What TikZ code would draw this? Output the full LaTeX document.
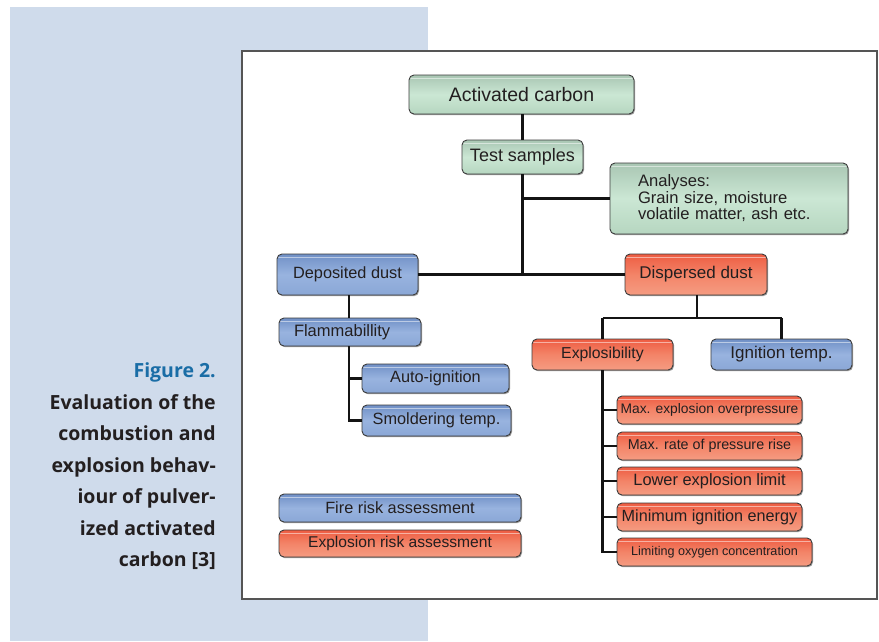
\documentclass[tikz,border=0pt]{standalone}
\usepackage{fontspec}
\setmainfont{Liberation Sans}
\newfontfamily\capfont{Open Sans}
\usetikzlibrary{shadows}
\definecolor{panel}{HTML}{CFDBEB}
\definecolor{figblue}{HTML}{1A6DA6}
\definecolor{captxt}{HTML}{231F20}
\definecolor{txt}{HTML}{231F20}
\definecolor{boxline}{HTML}{3C3C3C}
\definecolor{frameline}{HTML}{555555}
\definecolor{gA}{HTML}{A9C6B3}
\definecolor{gB}{HTML}{CBE7D4}
\definecolor{gC}{HTML}{B6D6C0}
\definecolor{bA}{HTML}{7090C6}
\definecolor{bB}{HTML}{98B3DF}
\definecolor{bC}{HTML}{8AA7D6}
\definecolor{rA}{HTML}{EE5C42}
\definecolor{rB}{HTML}{F38468}
\definecolor{rC}{HTML}{F59C82}
\begin{document}
\begin{tikzpicture}[x=1pt,y=-1pt,
  box/.style={draw=boxline, line width=0.9pt, rounded corners=5pt, inner sep=0pt,
    text=txt, drop shadow={shadow xshift=1pt, shadow yshift=-1.2pt, opacity=0.55, fill=black!70},
    path picture={\draw[white, opacity=0.5, line width=0.9pt]
      ([yshift=-3.5pt]path picture bounding box.north west) -- ([yshift=-3.5pt]path picture bounding box.north east);}},
  gbox/.style={box, top color=gA, bottom color=gC, middle color=gB},
  bbox/.style={box, top color=bA, bottom color=bC, middle color=bB},
  rbox/.style={box, top color=rA, bottom color=rC, middle color=rB},
  fs/.style={font=\fontsize{#1}{#1}\selectfont},
  sz/.style n args={2}{minimum width=#1pt, minimum height=#2pt},
  conn/.style={draw=black!92, line width=2.3pt},
  captext/.style={anchor=base east, inner sep=0pt, text=captxt, font=\capfont\bfseries\fontsize{19.5}{19.5}\selectfont}
]
\useasboundingbox (0,0) rectangle (879,641);
\fill[panel] (10,7) rectangle (428,641);
\draw[frameline, fill=white, line width=1.4pt] (242,51) rectangle (877,599);

% caption
\node[captext, text=figblue] (c0) at (216,377.5) {Figure 2.};
\node[captext] (c1) at (216,409) {Evaluation of the};
\node[captext] (c2) at (216,440.5) {combustion and};
\node[captext] (c3) at (216,472) {explosion behav-};
\node[captext] (c4) at (216,503.5) {iour of pulver-};
\node[captext] (c5) at (216,535) {ized activated};
\node[captext] (c6) at (216,566.5) {carbon [3]};

\coordinate (jt) at (522,274.5);
\coordinate (dj) at (697,318);

% nodes
\node[gbox, sz={225}{39}, fs=19.5] (ac) at (521.5,94.5) {Activated carbon};
\node[gbox, sz={121}{34}, fs=18] (ts) at (522.5,157) {Test samples};
\node[gbox, sz={238}{71}, text width=182pt, align=left, font=\fontsize{16.6}{16.5}\selectfont] (an) at (729,198.5) {Analyses:\\Grain size, moisture\\volatile matter, ash etc.};
\node[bbox, sz={141}{41}, fs=16.3] (dep) at (347.5,274.5) {Deposited dust};
\node[rbox, sz={142}{41}, fs=17] (dis) at (696,274.5) {Dispersed dust};
\node[bbox, sz={142}{28}, fs=16.5, text width=112pt, align=left] (fl) at (350,332) {Flammabillity};
\node[bbox, sz={147}{29}, fs=16.3] (ai) at (435.5,378.5) {Auto-ignition};
\node[bbox, sz={149}{31}, fs=16.3] (sm) at (436.5,420.5) {Smoldering temp.};
\node[rbox, sz={141}{31}, fs=15.8] (ex) at (602.5,354.5) {Explosibility};
\node[bbox, sz={141}{31}, fs=17] (ig) at (781.5,354.5) {Ignition temp.};
\node[rbox, sz={185}{28}, fs=13.8] (m1) at (709.5,410) {Max. explosion overpressure};
\node[rbox, sz={185}{28}, fs=14.3] (m2) at (709.5,446) {Max. rate of pressure rise};
\node[rbox, sz={185}{28}, fs=16.4] (m3) at (709.5,481) {Lower explosion limit};
\node[rbox, sz={185}{28}, fs=16.2] (m4) at (709.5,517) {Minimum ignition energy};
\node[rbox, sz={195}{28}, fs=12.6] (m5) at (714.5,552) {Limiting oxygen concentration};
\node[bbox, sz={242}{28}, fs=16.3] (fr) at (400,508) {Fire risk assessment};
\node[rbox, sz={242}{27}, fs=15.6] (er) at (400,543.5) {Explosion risk assessment};

% connectors
\draw[conn] (ac.south -| ts.north) -- (ts.north);
\draw[conn] (ts.south) -- (ts.south |- jt);
\draw[conn] (ts.south |- an.west) -- (an.west);
\draw[conn] (dep.east) -- (dis.west);
\draw[conn] (dep.south -| 349,0) -- (fl.north -| 349,0);
\draw[conn] (fl.south -| 349,0) -- (sm.west -| 349,0) -- (sm.west);
\draw[conn] (ai.west -| 349,0) -- (ai.west);
\draw[conn] (dis.south -| dj) -- (dj);
\draw[conn] (ex.north |- dj) -- (ig.north |- dj);
\draw[conn] (ex.north |- dj) -- (ex.north);
\draw[conn] (ig.north |- dj) -- (ig.north);
\draw[conn] (ex.south) -- (ex.south |- m5.west) -- (m5.west);
\draw[conn] (ex.south |- m1.west) -- (m1.west);
\draw[conn] (ex.south |- m2.west) -- (m2.west);
\draw[conn] (ex.south |- m3.west) -- (m3.west);
\draw[conn] (ex.south |- m4.west) -- (m4.west);
\end{tikzpicture}
\end{document}
